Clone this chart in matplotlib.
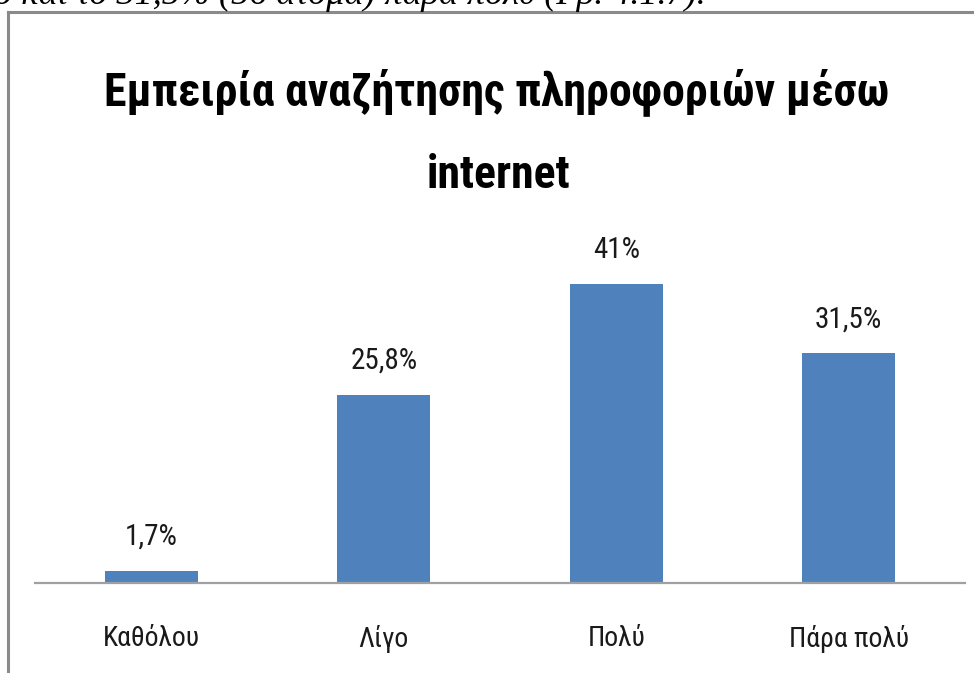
import matplotlib
matplotlib.use("Agg")
import matplotlib.pyplot as plt
from matplotlib import font_manager
from matplotlib.lines import Line2D

# Survey results: experience searching for information on the internet
categories = ["Καθόλου", "Λίγο", "Πολύ", "Πάρα πολύ"]
values = [1.7, 25.8, 41.0, 31.5]
value_labels = ["1,7%", "25,8%", "41%", "31,5%"]
title_lines = ["Εμπειρία αναζήτησης πληροφοριών μέσω", "internet"]
caption = "ο και το 31,5% (56 άτομα) πάρα πολύ (Γρ. 4.1.7)."

installed = {f.name for f in font_manager.fontManager.ttflist}
narrow = next((f for f in ["Liberation Sans Narrow", "Roboto Condensed",
                           "Open Sans Condensed", "Noto Sans"] if f in installed),
              "DejaVu Sans")
serif = "Liberation Serif" if "Liberation Serif" in installed else "DejaVu Serif"

W, H = 974, 673
fig = plt.figure(figsize=(W / 100, H / 100), dpi=100)
fig.patch.set_facecolor("white")

# Running text of the page, cut off at the top edge
fig.text(-0.006, 1 - 4 / H, caption, family=serif, style="italic",
         fontsize=26, va="baseline", ha="left", color="black")

# Chart frame (top and left edges visible)
frame_col = "#8a8a8a"
fig.add_artist(Line2D([8 / W, 1.0], [1 - 12 / H, 1 - 12 / H],
                      transform=fig.transFigure, color=frame_col, lw=2.2))
fig.add_artist(Line2D([8 / W, 8 / W], [1 - 12 / H, 0.0],
                      transform=fig.transFigure, color=frame_col, lw=2.2))

# Title
fig.text(497 / W, 1 - 105 / H, title_lines[0], family=narrow, weight="bold",
         fontsize=33, ha="center", va="baseline", color="black")
fig.text(499 / W, 1 - 188 / H, title_lines[1], family=narrow, weight="bold",
         fontsize=33, ha="center", va="baseline", color="black")

# Plot area
ax_left, ax_right = 35, 965
ax_bottom, ax_top = 583, 230
ax = fig.add_axes([ax_left / W, 1 - ax_bottom / H,
                   (ax_right - ax_left) / W, (ax_bottom - ax_top) / H])
ax.set_facecolor("none")
x = list(range(len(categories)))
bars = ax.bar(x, values, width=0.4, color="#4f81bd", zorder=2)
ax.set_xlim(-0.5, len(categories) - 0.5)
ax.set_ylim(0, 48.4)

for b, lab in zip(bars, value_labels):
    ax.annotate(lab, (b.get_x() + b.get_width() / 2, b.get_height()),
                xytext=(0, 26), textcoords="offset pixels",
                ha="center", va="baseline", family=narrow,
                fontsize=21, color="#1a1a1a")

for side in ["top", "right", "left"]:
    ax.spines[side].set_visible(False)
ax.spines["bottom"].set_color("#a0a0a0")
ax.spines["bottom"].set_linewidth(1.6)
ax.set_yticks([])
ax.set_xticks(x)
ax.set_xticklabels(categories, family=narrow, fontsize=20, color="#1a1a1a")
ax.tick_params(axis="x", length=0, pad=30)

fig.savefig("out.png", dpi=100, facecolor="white")
